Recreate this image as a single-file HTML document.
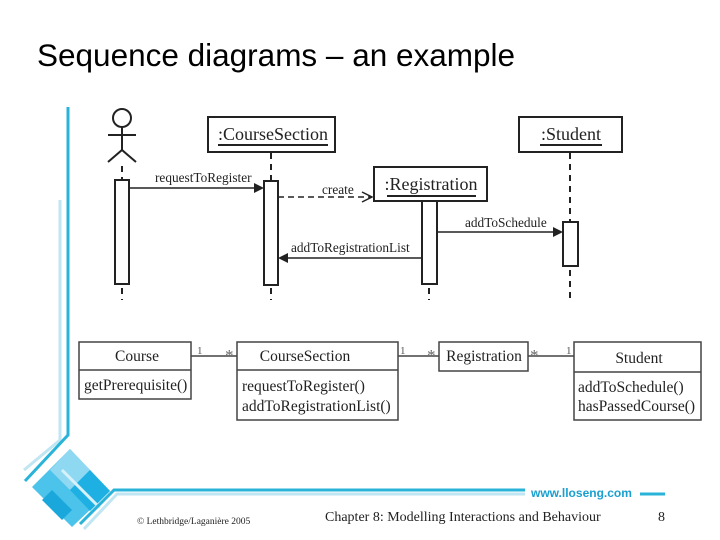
<!DOCTYPE html>
<html><head><meta charset="utf-8"><style>
html,body{margin:0;padding:0;background:#fff;}
svg{display:block;}
.s{font-family:"Liberation Serif",serif;fill:#222;}
</style></head><body>
<svg width="720" height="540" xmlns="http://www.w3.org/2000/svg">
<text x="37" y="66" font-family="Liberation Sans, sans-serif" font-size="31.5" fill="#000">Sequence diagrams – an example</text>
<!-- left decoration -->
<polyline points="60,200 60,440 24,470" fill="none" stroke="#bfe6f2" stroke-width="3"/>
<polyline points="68,107 68,435 25,481" fill="none" stroke="#29b3d8" stroke-width="3"/>
<polygon points="70,449 110,491 72,527 32,487" fill="#4cc3ea"/>
<polygon points="70,449 90,470 70,490 50,470" fill="#8fd8f2"/>
<polygon points="90,470 110,491 90,511 70,490" fill="#1fb0e3"/>
<polygon points="52,490 72,510 62,520 42,500" fill="#1aa8dc"/>
<line x1="62" y1="470" x2="100" y2="508" stroke="#d7f1fa" stroke-width="3"/>
<polyline points="84,529 117,494 525,494" fill="none" stroke="#bfe6f2" stroke-width="3"/>
<polyline points="80,524 114,490 525,490" fill="none" stroke="#29b3d8" stroke-width="3"/>
<line x1="640" y1="494" x2="665" y2="494" stroke="#29b3d8" stroke-width="3"/>
<text x="531" y="497" font-family="Liberation Sans, sans-serif" font-size="12" font-weight="bold" fill="#1aa0d0">www.lloseng.com</text>
<text x="137" y="524" class="s" font-size="9.5">© Lethbridge/Laganière 2005</text>
<text x="325" y="521" class="s" font-size="14">Chapter 8: Modelling Interactions and Behaviour</text>
<text x="658" y="521" class="s" font-size="14">8</text>

<g stroke="#222" stroke-width="2" fill="none">
<circle cx="122" cy="118" r="9"/>
<line x1="122" y1="127" x2="122" y2="150"/>
<line x1="108" y1="135" x2="136" y2="135"/>
<polyline points="108,162 122,150 136,162"/>
<line x1="122" y1="166" x2="122" y2="180" stroke-dasharray="6,5"/>
<rect x="115" y="180" width="14" height="104" fill="#fff"/>
<line x1="122" y1="288" x2="122" y2="300" stroke-dasharray="6,5"/>
<rect x="208" y="117" width="127" height="35" fill="#fff"/>
<line x1="271" y1="153" x2="271" y2="181" stroke-dasharray="6,5"/>
<rect x="264" y="181" width="14" height="104" fill="#fff"/>
<line x1="271" y1="288" x2="271" y2="300" stroke-dasharray="6,5"/>
<rect x="374" y="167" width="113" height="34" fill="#fff"/>
<rect x="422" y="201" width="15" height="83" fill="#fff"/>
<line x1="429" y1="288" x2="429" y2="300" stroke-dasharray="6,5"/>
<rect x="519" y="117" width="103" height="35" fill="#fff"/>
<line x1="570" y1="153" x2="570" y2="222" stroke-dasharray="6,5"/>
<rect x="563" y="222" width="15" height="44" fill="#fff"/>
<line x1="570" y1="270" x2="570" y2="300" stroke-dasharray="6,5"/>
<line x1="129" y1="188" x2="256" y2="188" stroke-width="1.5"/>
<line x1="278" y1="197" x2="372" y2="197" stroke-dasharray="6,4" stroke-width="1.5"/>
<polyline points="362,192 372,197 362,202" stroke-width="1.5"/>
<line x1="437" y1="232" x2="555" y2="232" stroke-width="1.5"/>
<line x1="422" y1="258" x2="286" y2="258" stroke-width="1.5"/>
</g>
<polygon points="264,188 254,183 254,193" fill="#222"/>
<polygon points="563,232 553,227 553,237" fill="#222"/>
<polygon points="278,258 288,253 288,263" fill="#222"/>
<g class="s">
<text x="273" y="140" font-size="18" text-anchor="middle">:CourseSection</text>
<line x1="218" y1="145" x2="328" y2="145" stroke="#222" stroke-width="2"/>
<text x="431" y="190" font-size="18" text-anchor="middle">:Registration</text>
<line x1="387" y1="196" x2="476" y2="196" stroke="#222" stroke-width="2"/>
<text x="571" y="140" font-size="18" text-anchor="middle">:Student</text>
<line x1="540" y1="145" x2="602" y2="145" stroke="#222" stroke-width="2"/>
<text x="155" y="182" font-size="13.3">requestToRegister</text>
<text x="322" y="194" font-size="13.3">create</text>
<text x="465" y="227" font-size="13.3">addToSchedule</text>
<text x="291" y="252" font-size="13.3">addToRegistrationList</text>
</g>

<g stroke="#444" stroke-width="1.5" fill="#fff">
<rect x="79" y="342" width="112" height="57"/><line x1="79" y1="370" x2="191" y2="370"/>
<rect x="237" y="342" width="161" height="78"/><line x1="237" y1="370" x2="398" y2="370"/>
<rect x="439" y="342" width="89" height="29"/>
<rect x="574" y="342" width="127" height="78"/><line x1="574" y1="372" x2="701" y2="372"/>
<line x1="191" y1="356" x2="237" y2="356"/>
<line x1="398" y1="356" x2="439" y2="356"/>
<line x1="528" y1="356" x2="574" y2="356"/>
</g>
<g class="s" font-size="15.5">
<text x="137" y="361" text-anchor="middle">Course</text>
<text x="84" y="390">getPrerequisite()</text>
<text x="305" y="361" text-anchor="middle">CourseSection</text>
<text x="242" y="391">requestToRegister()</text>
<text x="242" y="411">addToRegistrationList()</text>
<text x="484" y="361" text-anchor="middle">Registration</text>
<text x="639" y="363" text-anchor="middle">Student</text>
<text x="578" y="392">addToSchedule()</text>
<text x="578" y="411">hasPassedCourse()</text>
<g font-size="11" fill="#555">
<text x="197" y="354">1</text>
<text x="400" y="354">1</text>
<text x="566" y="354">1</text>
</g>
<g font-size="17" fill="#666">
<text x="225" y="361">*</text>
<text x="427" y="361">*</text>
<text x="530" y="361">*</text>
</g>
</g>
</svg>
</body></html>
